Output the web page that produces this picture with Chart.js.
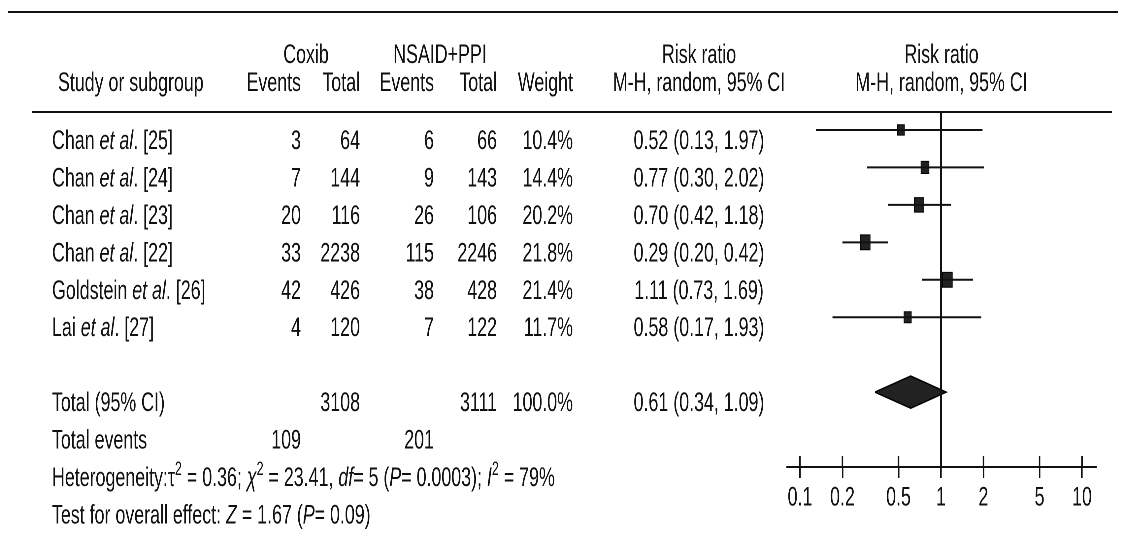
<!DOCTYPE html>
<html>
<head>
<meta charset="utf-8">
<script src="https://cdn.jsdelivr.net/npm/chart.js"></script>
<style>
  html, body { margin: 0; padding: 0; overflow: hidden; background: #fff; }
  /* the source figure is a horizontally squeezed image, so the whole chart is squeezed the same way */
  #wrap { width: 1706px; height: 538px; transform: scaleX(0.66); transform-origin: 0 0; }
</style>
</head>
<body>
<div id="wrap"><canvas id="chart" width="1706" height="538"></canvas></div>
<script>
// data
const studyNames = ['Chan', 'Chan', 'Chan', 'Chan', 'Goldstein', 'Lai']
const studyRefs = [25, 24, 23, 22, 26, 27]
const coxibEvents = [3, 7, 20, 33, 42, 4]
const coxibTotal = [64, 144, 116, 2238, 426, 120]
const nsaidEvents = [6, 9, 26, 115, 38, 7]
const nsaidTotal = [66, 143, 106, 2246, 428, 122]
const weights = [10.4, 14.4, 20.2, 21.8, 21.4, 11.7]
const riskRatio = [0.52, 0.77, 0.70, 0.29, 1.11, 0.58]
const ciLow = [0.13, 0.30, 0.42, 0.20, 0.73, 0.17]
const ciHigh = [1.97, 2.02, 1.18, 0.42, 1.69, 1.93]
const pooled = [0.61, 0.34, 1.09] // risk ratio, lower, upper
const pooledTotals = [3108, 3111]
const pooledEvents = [109, 201]
const heterogeneity = ['0.36', '23.41', '5', '0.0003', '79'] // tau2, chi2, df, P, I2
const overallEffect = ['1.67', '0.09'] // Z, P
const tickValues = [0.1, 0.2, 0.5, 1, 2, 5, 10]

const SX = 0.66
const X = px => px / SX // page x -> canvas x
const FONT = '"Liberation Sans", Arial, sans-serif'
const FS = 27
const INK = '#111'
const TOTAL_ROW = 7
const Y_MIN = -0.48
const Y_MAX = 9
const DIAMOND_H = 0.43

const fmt2 = v => v.toFixed(2)
const rrText = (r, lo, hi) => fmt2(r) + ' (' + fmt2(lo) + ', ' + fmt2(hi) + ')'

// draw mixed text: parts = [[text, style]], style '' | 'i' | 's'
function rich (ctx, parts, x, y, align) {
  const setFont = st => {
    if (st === 's') ctx.font = Math.round(FS * 0.72) + 'px ' + FONT
    else if (st === 'i') ctx.font = 'italic ' + FS + 'px ' + FONT
    else ctx.font = FS + 'px ' + FONT
  }
  let w = 0
  parts.forEach(p => { setFont(p[1]); w += ctx.measureText(p[0]).width })
  let cx = align === 'right' ? x - w : align === 'center' ? x - w / 2 : x
  ctx.textAlign = 'left'
  ctx.textBaseline = 'alphabetic'
  parts.forEach(p => {
    setFont(p[1])
    ctx.fillText(p[0], cx, p[1] === 's' ? y - FS * 0.4 : y)
    cx += ctx.measureText(p[0]).width
  })
}
const plain = (ctx, t, x, y, align) => rich(ctx, [[t, '']], x, y, align)

const tablePlugin = {
  id: 'table',
  afterDatasetsDraw (chart) {
    const ctx = chart.ctx
    const xs = chart.scales.x
    const area = chart.chartArea
    ctx.save()
    ctx.strokeStyle = INK
    ctx.lineWidth = 2.3
    xs.ticks.forEach(t => {
      const px = xs.getPixelForValue(t.value)
      ctx.beginPath()
      ctx.moveTo(px, area.bottom - 11)
      ctx.lineTo(px, area.bottom)
      ctx.stroke()
    })
    ctx.restore()
  },
  afterDraw (chart) {
    const ctx = chart.ctx
    const ys = chart.scales.y
    const area = chart.chartArea
    const base = i => ys.getPixelForValue(i) + 19
    ctx.save()
    ctx.fillStyle = INK
    ctx.strokeStyle = INK

    // rules
    ctx.lineWidth = 2
    ctx.beginPath()
    ctx.moveTo(X(8), 12)
    ctx.lineTo(X(1118), 12)
    ctx.moveTo(X(32), area.top)
    ctx.lineTo(X(1112), area.top)
    ctx.stroke()

    // headers
    const plotMid = (area.left + area.right) / 2
    plain(ctx, 'Coxib', X(306), 63, 'center')
    plain(ctx, 'NSAID+PPI', X(440), 63, 'center')
    plain(ctx, 'Risk ratio', X(699), 63, 'center')
    plain(ctx, 'Risk ratio', plotMid, 63, 'center')
    plain(ctx, 'Study or subgroup', X(58), 91, 'left')
    plain(ctx, 'Events', X(301), 91, 'right')
    plain(ctx, 'Total', X(360), 91, 'right')
    plain(ctx, 'Events', X(434), 91, 'right')
    plain(ctx, 'Total', X(497), 91, 'right')
    plain(ctx, 'Weight', X(573), 91, 'right')
    plain(ctx, 'M-H, random, 95% CI', X(699), 91, 'center')
    plain(ctx, 'M-H, random, 95% CI', plotMid, 91, 'center')

    // study rows
    studyNames.forEach((name, i) => {
      const y = base(i)
      rich(ctx, [[name + ' ', ''], ['et al', 'i'], ['. [' + studyRefs[i] + ']', '']], X(52), y, 'left')
      plain(ctx, String(coxibEvents[i]), X(301), y, 'right')
      plain(ctx, String(coxibTotal[i]), X(360), y, 'right')
      plain(ctx, String(nsaidEvents[i]), X(434), y, 'right')
      plain(ctx, String(nsaidTotal[i]), X(497), y, 'right')
      plain(ctx, weights[i].toFixed(1) + '%', X(573), y, 'right')
      plain(ctx, rrText(riskRatio[i], ciLow[i], ciHigh[i]), X(699), y, 'center')
    })

    // totals
    let y = base(TOTAL_ROW)
    plain(ctx, 'Total (95% CI)', X(52), y, 'left')
    plain(ctx, String(pooledTotals[0]), X(360), y, 'right')
    plain(ctx, String(pooledTotals[1]), X(497), y, 'right')
    plain(ctx, '100.0%', X(573), y, 'right')
    plain(ctx, rrText(pooled[0], pooled[1], pooled[2]), X(699), y, 'center')

    y = base(TOTAL_ROW + 1)
    plain(ctx, 'Total events', X(52), y, 'left')
    plain(ctx, String(pooledEvents[0]), X(301), y, 'right')
    plain(ctx, String(pooledEvents[1]), X(434), y, 'right')

    y = base(TOTAL_ROW + 2)
    rich(ctx, [
      ['Heterogeneity:', ''], ['\u03c4', ''], ['2', 's'], [' = ' + heterogeneity[0] + '; ', ''],
      ['\u03c7', 'i'], ['2', 's'], [' = ' + heterogeneity[1] + ', ', ''],
      ['df', 'i'], ['= ' + heterogeneity[2] + ' (', ''], ['P', 'i'], ['= ' + heterogeneity[3] + '); ', ''],
      ['I', 'i'], ['2', 's'], [' = ' + heterogeneity[4] + '%', '']
    ], X(52), y, 'left')

    y = base(TOTAL_ROW + 3)
    rich(ctx, [
      ['Test for overall effect: ', ''], ['Z', 'i'], [' = ' + overallEffect[0] + ' (', ''],
      ['P', 'i'], ['= ' + overallEffect[1] + ')', '']
    ], X(52), y, 'left')
    ctx.restore()
  }
}

const datasets = []
// line of no effect
datasets.push({
  type: 'line',
  data: [{ x: 1, y: Y_MIN }, { x: 1, y: Y_MAX }],
  borderColor: INK,
  borderWidth: 2.6,
  pointRadius: 0
})
// confidence intervals
riskRatio.forEach((r, i) => {
  datasets.push({
    type: 'line',
    data: [{ x: ciLow[i], y: i }, { x: ciHigh[i], y: i }],
    borderColor: INK,
    borderWidth: 2,
    pointRadius: 0
  })
})
// study estimates, box area follows weight
datasets.push({
  type: 'scatter',
  data: riskRatio.map((r, i) => ({ x: r, y: i })),
  pointStyle: 'rect',
  pointRadius: weights.map(w => 2.27 * Math.sqrt(w)),
  backgroundColor: '#222',
  borderColor: '#000',
  borderWidth: 1
})
// pooled diamond
datasets.push({
  type: 'line',
  data: [
    { x: pooled[1], y: TOTAL_ROW },
    { x: pooled[0], y: TOTAL_ROW - DIAMOND_H },
    { x: pooled[2], y: TOTAL_ROW },
    { x: pooled[0], y: TOTAL_ROW + DIAMOND_H },
    { x: pooled[1], y: TOTAL_ROW }
  ],
  fill: 'shape',
  backgroundColor: '#222',
  borderColor: '#000',
  borderWidth: 1.5,
  pointRadius: 0,
  tension: 0
})

new Chart(document.getElementById('chart'), {
  type: 'scatter',
  data: { datasets },
  options: {
    responsive: false,
    animation: false,
    devicePixelRatio: 2,
    layout: { padding: { left: X(787), right: 1706 - X(1096), top: 112, bottom: 0 } },
    plugins: { legend: { display: false }, tooltip: { enabled: false } },
    scales: {
      x: {
        type: 'logarithmic',
        bounds: 'data',
        min: 0.0809,
        max: 12.57,
        afterBuildTicks: s => { s.ticks = tickValues.map(v => ({ value: v })) },
        afterFit: s => { s.height = 71 },
        ticks: {
          callback: v => String(v),
          autoSkip: false,
          maxRotation: 0,
          padding: 4,
          color: INK,
          font: { family: FONT, size: FS }
        },
        grid: { drawOnChartArea: false, drawTicks: true, tickLength: 11, color: INK, lineWidth: 2.3 },
        border: { color: INK, width: 2 }
      },
      y: { type: 'linear', reverse: true, min: Y_MIN, max: Y_MAX, display: false }
    }
  },
  plugins: [tablePlugin]
})
</script>
</body>
</html>
